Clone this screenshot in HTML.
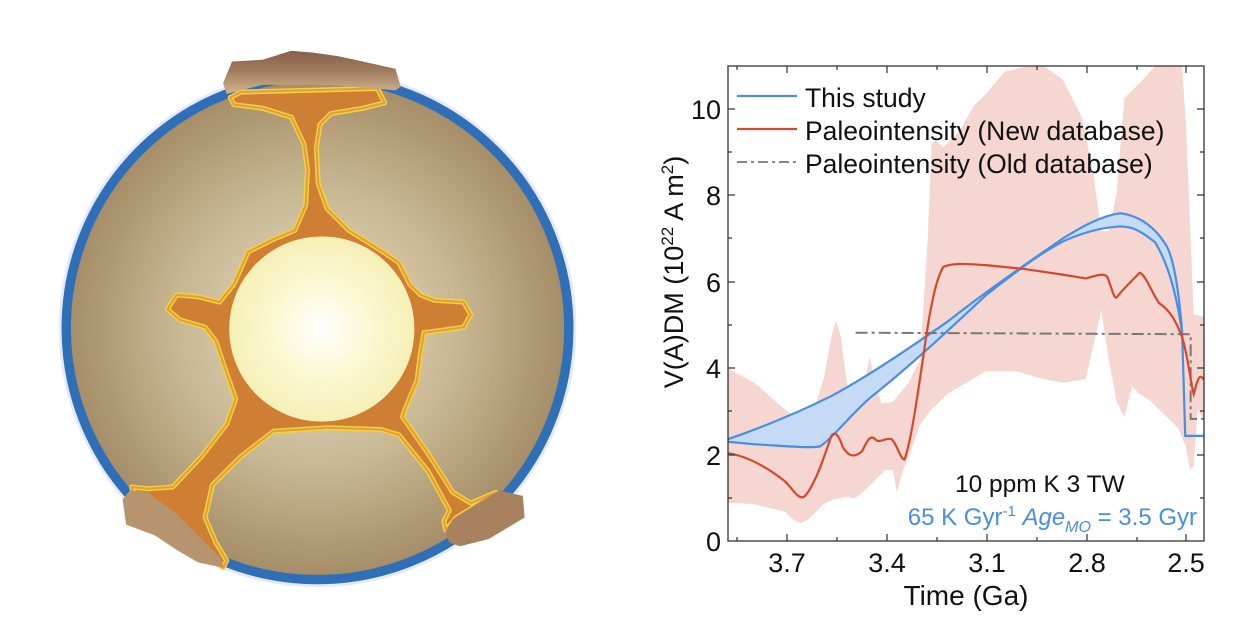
<!DOCTYPE html>
<html><head><meta charset="utf-8"><style>
html,body{margin:0;padding:0;background:#fff;}
svg{display:block;font-family:"Liberation Sans",Arial,sans-serif;}
</style></head><body>
<svg width="1260" height="644" viewBox="0 0 1260 644" xmlns="http://www.w3.org/2000/svg">
<defs>
<radialGradient id="mant" cx="0.5" cy="0.5" r="0.5">
<stop offset="0" stop-color="#e6dcc4"/><stop offset="0.55" stop-color="#c9b894"/><stop offset="1" stop-color="#a48c66"/>
</radialGradient>
<radialGradient id="core" cx="0.5" cy="0.5" r="0.5">
<stop offset="0" stop-color="#ffffff"/><stop offset="0.5" stop-color="#fbf8d4"/><stop offset="1" stop-color="#f6f0b6"/>
</radialGradient>
<linearGradient id="plate" x1="0" y1="0" x2="0" y2="1">
<stop offset="0" stop-color="#86604a"/><stop offset="0.45" stop-color="#9e7a5e"/><stop offset="1" stop-color="#d2b58e"/>
</linearGradient>
<clipPath id="pc"><rect x="728" y="66" width="476" height="475"/></clipPath>
</defs>

<!-- Globe -->
<g transform="matrix(0.359 0 0 0.359 40 40)">
<circle cx="773" cy="803" r="716" fill="none" stroke="#e4e9fb" stroke-width="10"/>
<circle cx="773" cy="803" r="700" fill="url(#mant)" stroke="#2e6fb8" stroke-width="26"/>
<path d="M530,160 L560,145 L940,135 L960,175 L900,190 L810,205 L780,235 L770,300 L775,400 L800,470 L860,530 L940,580 L1000,620 L1030,680 L1060,710 L1100,725 L1180,730 L1200,765 L1180,800 L1110,810 L1070,815 L1060,870 L1050,950 L1020,1020 L1010,1050 L1080,1150 L1150,1260 L1200,1290 L1270,1260 L1210,1300 L1160,1330 L1130,1365 L1125,1340 L1140,1310 L1080,1200 L1000,1100 L950,1085 L800,1080 L650,1090 L560,1160 L480,1240 L460,1330 L490,1400 L520,1450 L510,1470 L470,1440 L430,1400 L340,1320 L260,1260 L255,1245 L300,1250 L370,1245 L450,1160 L520,1070 L545,1000 L510,900 L490,840 L460,800 L390,780 L355,750 L380,710 L440,715 L500,730 L540,680 L580,590 L650,555 L710,530 L740,460 L745,360 L735,290 L700,215 L620,190 L540,180 Z" fill="#cf7f34" stroke="#f2d23e" stroke-width="14" stroke-linejoin="round"/>
<path d="M530,160 L560,145 L940,135 L960,175 L900,190 L810,205 L780,235 L770,300 L775,400 L800,470 L860,530 L940,580 L1000,620 L1030,680 L1060,710 L1100,725 L1180,730 L1200,765 L1180,800 L1110,810 L1070,815 L1060,870 L1050,950 L1020,1020 L1010,1050 L1080,1150 L1150,1260 L1200,1290 L1270,1260 L1210,1300 L1160,1330 L1130,1365 L1125,1340 L1140,1310 L1080,1200 L1000,1100 L950,1085 L800,1080 L650,1090 L560,1160 L480,1240 L460,1330 L490,1400 L520,1450 L510,1470 L470,1440 L430,1400 L340,1320 L260,1260 L255,1245 L300,1250 L370,1245 L450,1160 L520,1070 L545,1000 L510,900 L490,840 L460,800 L390,780 L355,750 L380,710 L440,715 L500,730 L540,680 L580,590 L650,555 L710,530 L740,460 L745,360 L735,290 L700,215 L620,190 L540,180 Z" fill="none" stroke="#e3a03a" stroke-width="6" stroke-linejoin="round"/>
<circle cx="785" cy="805" r="258" fill="url(#core)"/>
<path d="M510,120 L535,60 L620,55 L700,30 L760,35 L830,45 L990,80 L1005,130 L990,140 L800,125 L620,125 L520,150 Z" fill="url(#plate)"/>
<path d="M230,1280 L250,1255 L300,1260 L380,1320 L460,1400 L505,1445 L510,1470 L440,1455 L380,1420 L320,1380 L240,1350 Z" fill="#b8946e"/>
<path d="M1130,1370 L1150,1335 L1220,1290 L1280,1255 L1345,1270 L1350,1330 L1300,1360 L1250,1390 L1170,1410 L1140,1400 Z" fill="#a8825f"/>
</g>

<!-- Chart data -->
<g clip-path="url(#pc)">
<g transform="matrix(0.3855 0 0 0.3794 638.6 48.9)">
<path d="M228,840 L300,880 L380,950 L440,1000 L480,870 L500,760 L512,715 L525,760 L540,880 L560,920 L590,860 L600,810 L610,870 L630,935 L660,930 L700,880 L730,820 L750,500 L760,250 L770,240 L790,260 L830,220 L870,150 L900,120 L950,60 L1000,48 L1050,45 L1100,80 L1150,180 L1180,330 L1200,480 L1220,480 L1240,380 L1260,130 L1300,90 L1340,45 L1410,45 L1420,200 L1440,700 L1480,710 L1480,1000 L1450,950 L1440,1100 L1430,1110 L1420,1050 L1400,1000 L1360,960 L1330,930 L1300,910 L1280,890 L1260,970 L1240,930 L1220,820 L1200,690 L1180,780 L1160,870 L1100,880 L1050,870 L980,850 L900,850 L850,880 L800,910 L760,950 L730,990 L710,1050 L690,1100 L680,1130 L670,1170 L660,1110 L640,1110 L620,1130 L600,1150 L580,1170 L560,1185 L540,1180 L500,1190 L480,1200 L440,1240 L420,1250 L400,1240 L380,1220 L300,1200 L200,1195 L200,840 Z" fill="#f6d6d1"/>
<path d="M228,1030 C300,1005 400,965 500,915 C600,860 700,790 800,720 C900,640 1000,570 1100,500 C1150,468 1200,440 1250,433 C1300,440 1340,470 1370,520 C1390,560 1402,640 1410,750 L1410,750 C1395,640 1370,560 1340,510 C1300,478 1280,468 1250,468 C1200,470 1150,485 1100,508 C1050,535 1000,570 900,650 C800,745 700,840 600,920 C540,975 500,1030 470,1048 C440,1052 400,1048 300,1042 L228,1035 Z" fill="#c5dbf5"/>
<path d="M228,1030 C300,1005 400,965 500,915 C600,860 700,790 800,720 C900,640 1000,570 1100,500 C1150,468 1200,440 1250,433 C1300,440 1340,470 1370,520 C1390,560 1402,640 1410,750 L1418,1020 L1480,1020" fill="none" stroke="#4a8ee2" stroke-width="2.2" vector-effect="non-scaling-stroke"/>
<path d="M228,1035 L300,1042 C400,1048 440,1052 470,1048 C500,1030 540,975 600,920 C700,840 800,745 900,650 C1000,570 1050,535 1100,508 C1150,485 1200,470 1250,468 C1280,468 1300,478 1340,510 C1370,560 1395,640 1410,750" fill="none" stroke="#4a8ee2" stroke-width="2.2" vector-effect="non-scaling-stroke"/>
<path d="M563,748 L1432,752 L1432,975 L1480,975" fill="none" stroke="#777" stroke-width="2" stroke-dasharray="12,4,3,4" vector-effect="non-scaling-stroke"/>
<path d="M228,1065 C280,1072 330,1100 380,1140 C400,1160 415,1190 430,1180 C455,1155 480,1080 500,1020 C510,1005 520,1020 530,1050 C545,1075 560,1078 580,1060 C590,1040 600,1012 615,1030 C625,1040 640,1025 655,1028 C668,1035 680,1085 690,1082 C705,1040 720,940 740,800 C755,690 770,610 790,575 C810,565 840,565 900,570 L1000,580 L1100,595 L1160,605 C1185,598 1205,590 1215,600 C1225,620 1232,660 1240,655 C1255,635 1280,610 1300,590 C1315,595 1330,640 1350,670 C1380,690 1395,720 1410,760 C1425,810 1432,880 1440,910 C1450,870 1455,855 1465,870 L1480,885" fill="none" stroke="#d6482c" stroke-width="2.2" vector-effect="non-scaling-stroke"/>
</g>
</g>

<!-- Frame and ticks -->
<rect x="728" y="66" width="476" height="475" fill="none" stroke="#333" stroke-width="1.3"/>
<g stroke="#333" stroke-width="1.2">
<path d="M787,541v-7M887,541v-7M987,541v-7M1087,541v-7M1186,541v-7M787,66v7M887,66v7M987,66v7M1087,66v7M1186,66v7"/>
<path d="M737,541v-4M837,541v-4M937,541v-4M1037,541v-4M1137,541v-4M737,66v4M837,66v4M937,66v4M1037,66v4M1137,66v4"/>
<path d="M728,455h7M728,368h7M728,282h7M728,195h7M728,109h7M1204,455h-7M1204,368h-7M1204,282h-7M1204,195h-7M1204,109h-7"/>
<path d="M728,498h4M728,411h4M728,325h4M728,238h4M728,152h4M1204,498h-4M1204,411h-4M1204,325h-4M1204,238h-4M1204,152h-4"/>
</g>

<g font-size="27" fill="#111" text-anchor="end">
<text x="721" y="551">0</text><text x="721" y="465">2</text><text x="721" y="378">4</text>
<text x="721" y="292">6</text><text x="721" y="205">8</text><text x="721" y="119">10</text>
</g>
<g font-size="27" fill="#111" text-anchor="middle">
<text x="787" y="572">3.7</text><text x="887" y="572">3.4</text><text x="987" y="572">3.1</text>
<text x="1087" y="572">2.8</text><text x="1186" y="572">2.5</text>
<text x="966" y="605" font-size="28">Time (Ga)</text>
</g>
<text transform="translate(683,272) rotate(-90)" font-size="27" text-anchor="middle" fill="#111">V(A)DM (10<tspan dy="-10" font-size="17">22</tspan><tspan dy="10"> A m</tspan><tspan dy="-10" font-size="17">2</tspan><tspan dy="10">)</tspan></text>

<!-- Legend -->
<line x1="737" y1="96" x2="797" y2="96" stroke="#4a8ee2" stroke-width="2.2"/>
<line x1="737" y1="129" x2="797" y2="129" stroke="#d6482c" stroke-width="2.2"/>
<line x1="737" y1="162" x2="797" y2="162" stroke="#888" stroke-width="2" stroke-dasharray="10,4,3,4"/>
<g font-size="26.5" fill="#111">
<text x="805" y="107">This study</text>
<text x="805" y="140">Paleointensity (New database)</text>
<text x="805" y="173">Paleointensity (Old database)</text>
</g>
<text x="955" y="492" font-size="24.5" fill="#111">10 ppm K  3 TW</text>
<text x="1197" y="525" font-size="24" fill="#4a8ee2" text-anchor="end">65 K Gyr<tspan dy="-9" font-size="15">-1</tspan><tspan dy="9"> </tspan><tspan font-style="italic">Age</tspan><tspan dy="7" font-size="16" font-style="italic">MO</tspan><tspan dy="-7"> = 3.5 Gyr</tspan></text>
</svg>
</body></html>
